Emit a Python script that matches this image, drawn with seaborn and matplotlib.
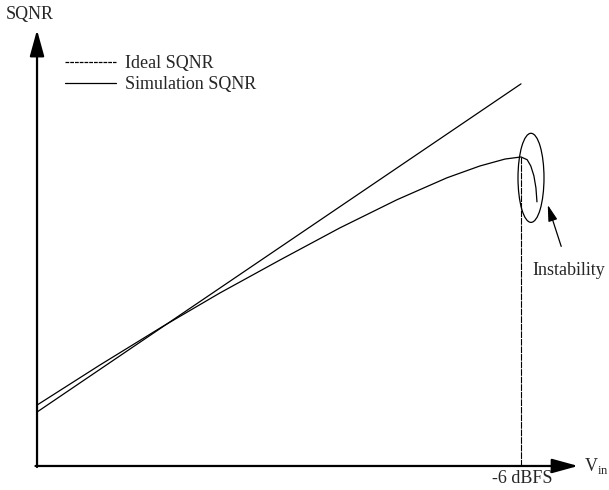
import matplotlib.pyplot as plt
import matplotlib.patches as mpatches
import seaborn as sns
import pandas as pd

# input level (dBFS) and SQNR (dB)
ideal_vin = [-100.0, -6.0]
ideal_sqnr = [15.5, 109.8]

sim_vin = [-100.0, -87.8, -75.7, -64.5, -52.8, -41.2, -30.1, -20.4, -14.0, -9.1, -6.0,
           -4.8, -4.1, -3.5, -3.1, -2.9]
sim_sqnr = [17.5, 29.0, 40.0, 49.7, 59.2, 68.4, 76.5, 82.8, 86.2, 88.2, 88.8,
            88.0, 86.2, 83.4, 79.9, 75.9]

full_scale_vin = -6.0
peak_sqnr = 88.8

sns.set_style("white")
plt.rcParams['font.family'] = ['Liberation Serif', 'DejaVu Serif']
plt.rcParams['mathtext.fontset'] = 'custom'
plt.rcParams['mathtext.rm'] = 'Liberation Serif'

fig = plt.figure(figsize=(6.09, 4.90), dpi=100)
ax = fig.add_axes([0, 0, 1, 1])
ax.set_xlim(-107.19, 11.09)
ax.set_ylim(-6.9, 133.9)
ax.axis('off')

df_ideal = pd.DataFrame({'vin': ideal_vin, 'sqnr': ideal_sqnr})
df_sim = pd.DataFrame({'vin': sim_vin, 'sqnr': sim_sqnr})

sns.lineplot(data=df_ideal, x='vin', y='sqnr', ax=ax, color='black', lw=0.9,
             label='Ideal SQNR')
sns.lineplot(data=df_sim, x='vin', y='sqnr', ax=ax, color='black', lw=0.9,
             sort=False, estimator=None, label='Simulation SQNR')

# -6 dBFS marker
ax.plot([full_scale_vin, full_scale_vin], [0, peak_sqnr], color='black', lw=0.8,
        dashes=(6, 0.8))

# axes with arrows
arrow = dict(arrowstyle='-|>,head_length=0.8,head_width=0.22', mutation_scale=20,
             color='black', lw=1.6, shrinkA=0, shrinkB=0)
ax.annotate('', xy=(-100, 125.3), xytext=(-100, -0.3), arrowprops=arrow)
ax.annotate('', xy=(5.1, 0), xytext=(-100.3, 0), arrowprops=arrow)

ax.text(-101.4, 129.6, 'SQNR', fontsize=13, ha='center', va='center')
ax.text(6.2, 0, r'V$_{\rm in}$', fontsize=13, ha='left', va='center')
ax.text(-5.8, -3.5, '-6 dBFS', fontsize=13, ha='center', va='center')

# instability region
ax.add_patch(mpatches.Ellipse((-4.06, 82.8), 5.05, 25.6, fill=False, color='black', lw=0.9))
ax.annotate('Instability', xy=(-0.8, 75.0), xytext=(3.3, 56.3), fontsize=13,
            ha='center', va='center',
            arrowprops=dict(arrowstyle='-|>,head_length=0.7,head_width=0.2',
                            mutation_scale=14, color='black', lw=0.9,
                            shrinkA=9, shrinkB=0))

leg = ax.legend(loc='upper left', bbox_to_anchor=(0.107, 0.887), frameon=False,
                fontsize=13, handlelength=2.8, handletextpad=0.5, labelspacing=0.2,
                borderpad=0, borderaxespad=0)
leg.get_lines()[0].set_dashes((3, 0.8))

plt.savefig('out.png', dpi=100)
